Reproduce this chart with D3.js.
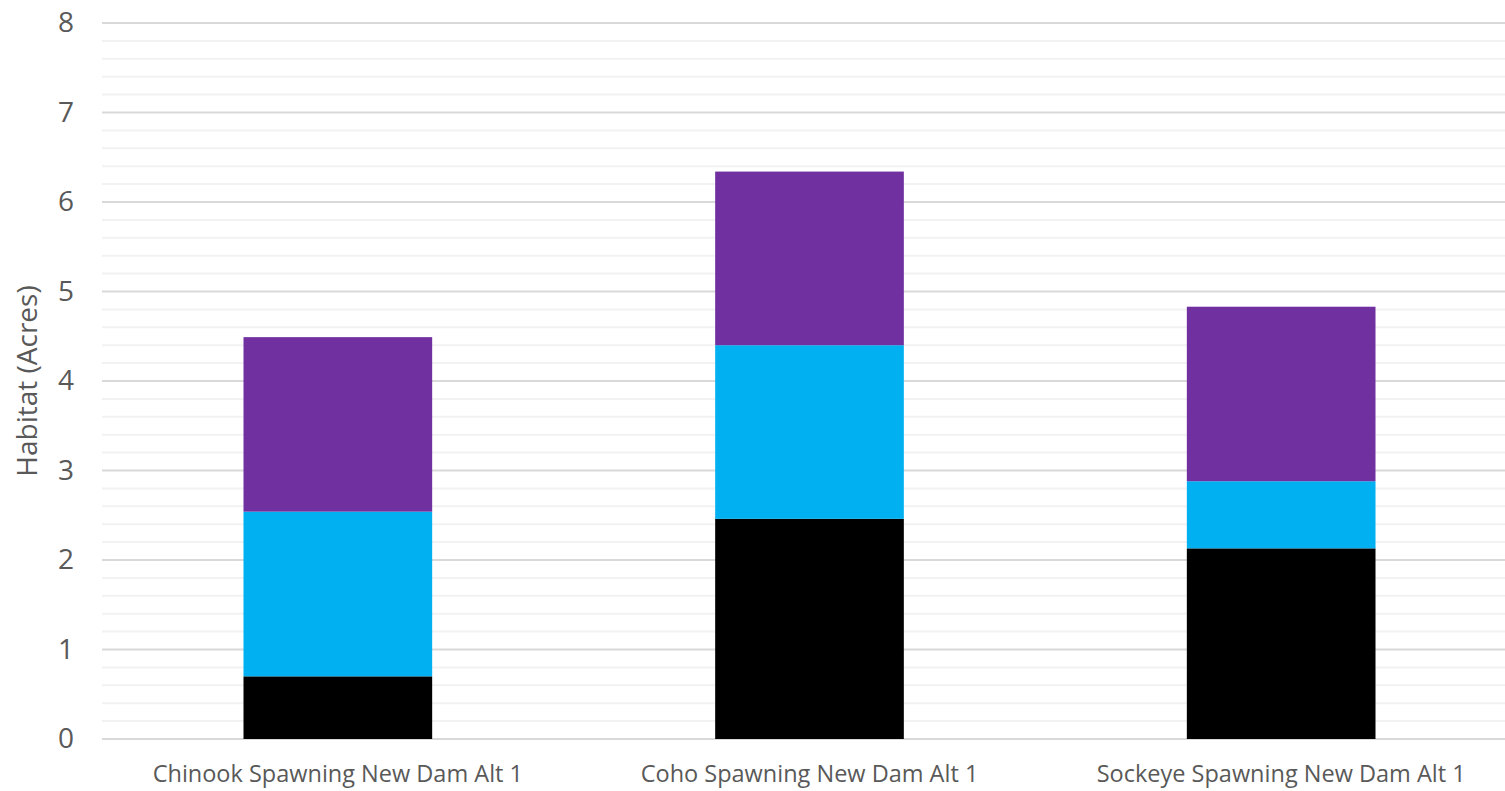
<!DOCTYPE html>
<html>
<head>
<meta charset="utf-8">
<script src="https://cdn.jsdelivr.net/npm/d3@7"></script>
<style>
  html, body { margin: 0; padding: 0; background: #fff; }
  svg { display: block; }
  text { font-family: "Open Sans", "Liberation Sans", sans-serif; fill: #595959; }
</style>
</head>
<body>
<svg id="chart" width="1505" height="791"></svg>
<script>
// Habitat acreage by species, stacked in three segments (bottom to top)
const categories = [
  "Chinook Spawning New Dam Alt 1",
  "Coho Spawning New Dam Alt 1",
  "Sockeye Spawning New Dam Alt 1"
];
const segmentBottom = [0.70, 2.46, 2.13];
const segmentMiddle = [1.84, 1.94, 0.75];
const segmentTop    = [1.95, 1.94, 1.95];
const seriesKeys    = ["bottom", "middle", "top"];
const seriesColors  = ["#000000", "#00B0F0", "#7030A0"];
const yTicks        = [0, 1, 2, 3, 4, 5, 6, 7, 8];
const yMinorTicks   = d3.range(0, 8.001, 0.2);
const yTitle        = "Habitat (Acres)";

const rows = categories.map((c, i) => ({
  category: c,
  bottom: segmentBottom[i],
  middle: segmentMiddle[i],
  top: segmentTop[i]
}));

const svg = d3.select("#chart");
const plot = { left: 102, right: 1517, top: 23, bottom: 739 };

const x = d3.scaleBand()
  .domain(categories)
  .range([plot.left, plot.right])
  .paddingInner(0.6)
  .paddingOuter(0.3);

const y = d3.scaleLinear().domain([0, 8]).range([plot.bottom, plot.top]);

// Minor gridlines
svg.append("g")
  .selectAll("line")
  .data(yMinorTicks.filter(v => Math.abs(v - Math.round(v)) > 1e-6))
  .join("line")
  .attr("x1", plot.left).attr("x2", 1505)
  .attr("y1", d => y(d)).attr("y2", d => y(d))
  .attr("stroke", "#f2f2f2").attr("stroke-width", 2);

// Major gridlines
svg.append("g")
  .selectAll("line")
  .data(yTicks)
  .join("line")
  .attr("x1", plot.left).attr("x2", 1505)
  .attr("y1", d => y(d)).attr("y2", d => y(d))
  .attr("stroke", "#d9d9d9").attr("stroke-width", 2);

// Y axis tick labels
const yAxis = d3.axisLeft(y).tickValues(yTicks).tickSize(0).tickPadding(0).tickFormat(d3.format("d"));
svg.append("g")
  .attr("transform", `translate(74,0)`)
  .call(yAxis)
  .call(g => g.select(".domain").remove())
  .selectAll("text")
  .attr("font-size", 28)
  .attr("font-family", "Open Sans, sans-serif")
  .attr("fill", "#595959");

// Stacked bars
const stack = d3.stack().keys(seriesKeys);
const layers = stack(rows);

svg.append("g")
  .selectAll("g")
  .data(layers)
  .join("g")
  .attr("fill", (d, i) => seriesColors[i])
  .selectAll("rect")
  .data(d => d)
  .join("rect")
  .attr("x", d => x(d.data.category))
  .attr("width", x.bandwidth())
  .attr("y", d => y(d[1]))
  .attr("height", d => y(d[0]) - y(d[1]));

// Category labels
const xAxis = d3.axisBottom(x).tickSize(0).tickPadding(0);
svg.append("g")
  .attr("transform", `translate(0,782)`)
  .call(xAxis)
  .call(g => g.select(".domain").remove())
  .selectAll("text")
  .attr("dy", 0)
  .attr("font-size", 23.5)
  .attr("font-family", "Open Sans, sans-serif")
  .attr("fill", "#595959");

// Y axis title
svg.append("text")
  .attr("transform", `translate(37,381) rotate(-90)`)
  .attr("text-anchor", "middle")
  .attr("font-size", 28)
  .text(yTitle);
</script>
</body>
</html>
